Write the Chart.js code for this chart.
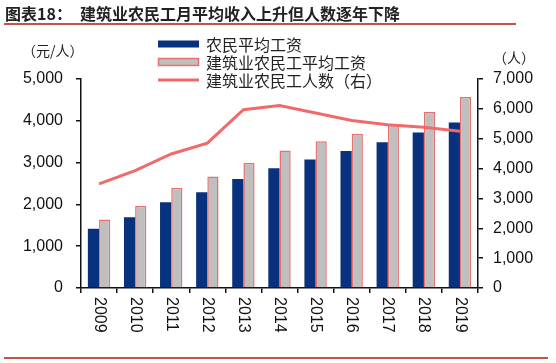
<!DOCTYPE html>
<html>
<head>
<meta charset="utf-8">
<script src="https://cdn.jsdelivr.net/npm/chart.js@4.4.0/dist/chart.umd.min.js"></script>
<style>
  body { margin: 0; background: #fff; }
  #wrap { position: relative; width: 556px; height: 363px; }
  #wrap canvas { position: absolute; left: 0; top: 0; }
  .ttl { position: absolute; top: 3px; font: bold 16px "Noto Sans CJK SC", sans-serif; color: #222; line-height: 20px; white-space: nowrap; }
  .rule { position: absolute; left: 4px; height: 2px; background: #c4514a; }
  .unit { position: absolute; font: 14px "Noto Sans CJK SC", sans-serif; color: #222; line-height: 16px; white-space: nowrap; }
</style>
</head>
<body>
<div id="wrap">
  <canvas id="myChart" width="556" height="363"></canvas>
  <div class="ttl" style="left:5px">图表18：</div>
  <div class="ttl" style="left:80px">建筑业农民工月平均收入上升但人数逐年下降</div>
  <div class="rule" style="top:23px;width:512px"></div>
  <div class="rule" style="top:357px;width:544px"></div>
  <div class="unit" style="left:22px;top:42px">（元/人）</div>
  <div class="unit" style="left:493px;top:49px">（人）</div>
</div>
<script>
const years = ["2009", "2010", "2011", "2012", "2013", "2014", "2015", "2016", "2017", "2018", "2019"];
const avgWage = [1417, 1690, 2049, 2290, 2609, 2864, 3072, 3275, 3485, 3721, 3962];
const buildWage = [1640, 1960, 2400, 2670, 2990, 3292, 3508, 3687, 3918, 4209, 4567];
const buildWorkers = [3490, 3930, 4490, 4850, 5970, 6110, 5860, 5610, 5465, 5385, 5250];
const leftTicks = [0, 1000, 2000, 3000, 4000, 5000];
const rightTicks = [0, 1000, 2000, 3000, 4000, 5000, 6000, 7000];

const numFont = { family: "'Liberation Sans', Arial, sans-serif", size: 16 };

// vertical legend in the top-left corner
const sideLegend = {
  id: "sideLegend",
  afterDraw(chart) {
    const ctx = chart.ctx;
    ctx.save();
    ctx.font = '16px "Noto Sans CJK SC", sans-serif';
    ctx.textBaseline = "middle";
    chart.data.datasets.forEach((ds, i) => {
      const y = 44 + i * 18;
      if (ds.type === "line") {
        ctx.strokeStyle = ds.borderColor;
        ctx.lineWidth = 3;
        ctx.beginPath();
        ctx.moveTo(158, y);
        ctx.lineTo(199, y);
        ctx.stroke();
      } else {
        ctx.fillStyle = ds.backgroundColor;
        ctx.fillRect(158, y - 3.5, 41, 7);
        if (ds.borderWidth) {
          ctx.strokeStyle = ds.borderColor;
          ctx.lineWidth = 1.5;
          ctx.strokeRect(158.5, y - 3.5, 40, 7);
        }
      }
      ctx.fillStyle = "#222";
      ctx.fillText(ds.label, 206, y + 1);
    });
    ctx.restore();
  },
};

// year labels turned clockwise, read top to bottom
const yearLabels = {
  id: "yearLabels",
  afterDraw(chart) {
    const ctx = chart.ctx;
    const xs = chart.scales.x;
    ctx.save();
    ctx.font = "16px 'Liberation Sans', Arial, sans-serif";
    ctx.fillStyle = "#111";
    ctx.textAlign = "left";
    ctx.textBaseline = "middle";
    chart.data.labels.forEach((lab, i) => {
      ctx.save();
      ctx.translate(xs.getPixelForValue(i), xs.top + 9);
      ctx.rotate(Math.PI / 2);
      ctx.fillText(lab, 0, 0);
      ctx.restore();
    });
    ctx.restore();
  },
};

new Chart(document.getElementById("myChart"), {
  type: "bar",
  data: {
    labels: years,
    datasets: [
      {
        label: "农民平均工资",
        data: avgWage,
        backgroundColor: "#08317e",
        borderWidth: 0,
        yAxisID: "y",
        order: 1,
        categoryPercentage: 0.62,
        barPercentage: 1.0,
      },
      {
        label: "建筑业农民工平均工资",
        data: buildWage,
        backgroundColor: "#bfbfbf",
        borderColor: "#e8706f",
        borderWidth: 1.5,
        yAxisID: "y",
        order: 1,
        categoryPercentage: 0.62,
        barPercentage: 1.0,
      },
      {
        type: "line",
        label: "建筑业农民工人数（右）",
        data: buildWorkers,
        borderColor: "#f06a6a",
        backgroundColor: "#f06a6a",
        borderWidth: 3,
        pointRadius: 0,
        tension: 0,
        fill: false,
        yAxisID: "y1",
        order: 0,
      },
    ],
  },
  options: {
    responsive: false,
    animation: false,
    layout: { padding: { top: 79, left: 0, right: 0, bottom: 0 } },
    plugins: {
      legend: { display: false },
      tooltip: { enabled: false },
    },
    scales: {
      x: {
        ticks: { display: false },
        grid: { offset: true, drawOnChartArea: false, tickLength: 5, color: "#111", lineWidth: 1.5 },
        border: { color: "#111", width: 1.5 },
        afterFit(scale) { scale.height = 75; },
      },
      y: {
        position: "left",
        min: 0,
        max: 5000,
        afterBuildTicks(scale) { scale.ticks = leftTicks.map((v) => ({ value: v })); },
        ticks: {
          color: "#111",
          font: numFont,
          padding: 13,
          callback: (v) => v.toLocaleString("en-US"),
        },
        grid: { drawOnChartArea: false, tickLength: 5, color: "#111", lineWidth: 1.5 },
        border: { color: "#111", width: 1.5 },
        afterFit(scale) { scale.width = 81; },
      },
      y1: {
        position: "right",
        min: 0,
        max: 7000,
        afterBuildTicks(scale) { scale.ticks = rightTicks.map((v) => ({ value: v })); },
        ticks: {
          color: "#111",
          font: numFont,
          padding: 10,
          callback: (v) => v.toLocaleString("en-US"),
        },
        grid: { drawOnChartArea: false, tickLength: 5, color: "#111", lineWidth: 1.5 },
        border: { color: "#111", width: 1.5 },
        afterFit(scale) { scale.width = 78; },
      },
    },
  },
  plugins: [sideLegend, yearLabels],
});
</script>
</body>
</html>
